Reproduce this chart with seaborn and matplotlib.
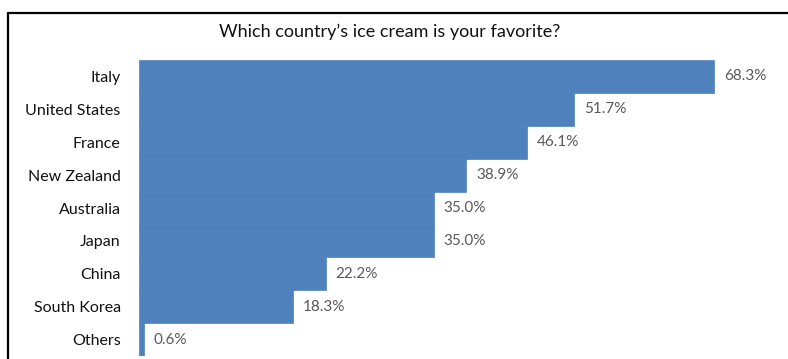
import matplotlib
matplotlib.use("Agg")
import matplotlib.pyplot as plt
import seaborn as sns
import pandas as pd

countries = ["Italy", "United States", "France", "New Zealand", "Australia",
             "Japan", "China", "South Korea", "Others"]
shares = [68.3, 51.7, 46.1, 38.9, 35.0, 35.0, 22.2, 18.3, 0.6]
title = "Which country\u2019s ice cream is your favorite?"

sns.set_theme(style="white")
plt.rcParams["font.family"] = ["Lato", "DejaVu Sans"]

df = pd.DataFrame({"Country": countries, "Share": shares})

fig = plt.figure(figsize=(7.88, 3.59), dpi=100)
ax = fig.add_axes([0.176, 0.008, 0.79, 0.825])

sns.barplot(data=df, x="Share", y="Country", orient="h", color="#4F81BD",
            saturation=1, width=1.0, edgecolor="#4F81BD", linewidth=0.5, ax=ax)

ax.set_xlim(0, 73.9)
ax.set_xlabel("")
ax.set_ylabel("")
ax.set_xticks([])
ax.tick_params(axis="y", length=0, pad=13, labelsize=11.5, labelcolor="#111111")
for s in ax.spines.values():
    s.set_visible(False)

ax.bar_label(ax.containers[0], labels=[f"{v:.1f}%" for v in shares],
             padding=7, fontsize=11, color="#595959")

fig.text(0.494, 0.91, title, ha="center", va="center", fontsize=13, color="#111111")

# outer frame (top and left edges visible)
fig.add_artist(plt.Line2D([8 / 788, 1.0], [1 - 13 / 359, 1 - 13 / 359],
                          transform=fig.transFigure, color="black", lw=1.6))
fig.add_artist(plt.Line2D([8 / 788, 8 / 788], [0.0, 1 - 13 / 359],
                          transform=fig.transFigure, color="black", lw=1.6))

fig.savefig("out.png", dpi=100)
